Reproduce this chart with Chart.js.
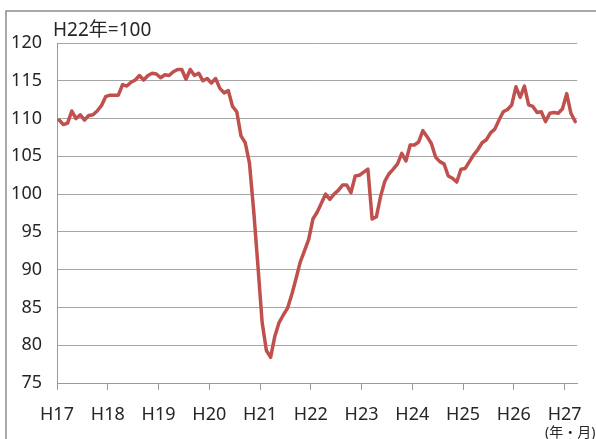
<!DOCTYPE html>
<html>
<head>
<meta charset="utf-8">
<script src="https://cdn.jsdelivr.net/npm/chart.js@4/dist/chart.umd.min.js"></script>
<style>
  html, body { margin: 0; padding: 0; background: #fff; }
  #wrap { position: relative; width: 596px; height: 439px; }
</style>
</head>
<body>
<div id="wrap"><canvas id="c" width="596" height="439"></canvas></div>
<script>
// Tick labels (fiscal years, Heisei)
const tickLabels = ['H17','H18','H19','H20','H21','H22','H23','H24','H25','H26','H27'];

// Monthly index values (H22 = 100), H17.1 .. H27.3
const values2005 = [109.8,109.2,109.4,111.0,110.0,110.5,109.8,110.4,110.5,111.0,111.7,112.9];
const values2006 = [113.1,113.1,113.1,114.5,114.3,114.8,115.1,115.7,115.1,115.7,116.0,115.9];
const values2007 = [115.4,115.8,115.7,116.2,116.5,116.5,115.2,116.5,115.7,116.0,115.0,115.3];
const values2008 = [114.7,115.3,114.0,113.4,113.7,111.6,110.9,107.7,106.8,104.1,97.8,90.5];
const values2009 = [83.0,79.3,78.4,81.2,83.0,84.0,84.9,86.7,88.8,91.0,92.5,94.0];
const values2010 = [96.7,97.6,98.8,100.0,99.3,100.0,100.5,101.2,101.2,100.2,102.4,102.5];
const values2011 = [102.9,103.3,96.7,97.0,99.7,101.7,102.7,103.3,104.0,105.4,104.4,106.5];
const values2012 = [106.5,106.9,108.4,107.6,106.7,104.9,104.3,104.0,102.4,102.1,101.6,103.3];
const values2013 = [103.4,104.3,105.2,105.9,106.8,107.2,108.1,108.6,109.8,110.9,111.2,111.8];
const values2014 = [114.2,112.8,114.3,111.8,111.6,110.8,110.9,109.6,110.7,110.8,110.7,111.3];
const values2015 = [113.3,110.7,109.6];

const values = [].concat(values2005, values2006, values2007, values2008, values2009,
  values2010, values2011, values2012, values2013, values2014, values2015);

const categories = [];
tickLabels.forEach(function (y) {
  for (let m = 1; m <= 12; m++) categories.push(y + '.' + m);
});
categories.length = values.length;

const yTitle = 'H22年=100';
const xUnit = '(年・月)';

const FONT = '"Noto Sans", "Noto Sans CJK JP", sans-serif';
const TEXT = '#262626';

const framePlugin = {
  id: 'frame',
  beforeDraw(chart) {
    const ctx = chart.ctx;
    ctx.save();
    ctx.fillStyle = '#fff';
    ctx.fillRect(0, 0, chart.width, chart.height);
    ctx.strokeStyle = '#8c8c8c';
    ctx.lineWidth = 1.5;
    ctx.beginPath();
    ctx.moveTo(6, chart.height + 2);
    ctx.lineTo(6, 11);
    ctx.lineTo(chart.width + 2, 11);
    ctx.stroke();
    ctx.restore();
  },
  afterDraw(chart) {
    const ctx = chart.ctx;
    ctx.save();
    ctx.fillStyle = TEXT;
    ctx.textBaseline = 'alphabetic';
    ctx.textAlign = 'left';
    ctx.font = '19px ' + FONT;
    ctx.fillText(yTitle, 53, 36);
    ctx.font = '14px ' + FONT;
    ctx.fillText(xUnit, 545, 437);
    ctx.restore();
  }
};

new Chart(document.getElementById('c'), {
  type: 'line',
  data: {
    labels: categories,
    datasets: [{
      data: values.map(function (v, i) { return { x: i, y: v }; }),
      borderColor: '#C0504D',
      borderWidth: 3.5,
      pointRadius: 0,
      tension: 0,
      fill: false,
      borderJoinStyle: 'round',
      borderCapStyle: 'round'
    }]
  },
  options: {
    responsive: false,
    animation: false,
    events: [],
    layout: { padding: { top: 43, right: 18, bottom: 0, left: 0 } },
    plugins: { legend: { display: false }, tooltip: { enabled: false }, title: { display: false } },
    scales: {
      x: {
        type: 'linear',
        min: -0.5,
        max: values.length - 0.5,
        afterBuildTicks(scale) {
          scale.ticks = tickLabels.map(function (_, k) { return { value: k * 12 - 0.5 }; });
        },
        afterFit(scale) { scale.height = 56; },
        ticks: {
          autoSkip: false,
          maxRotation: 0,
          minRotation: 0,
          padding: 14,
          color: TEXT,
          font: { family: FONT, size: 18 },
          callback: function (v, idx) { return tickLabels[idx]; }
        },
        grid: { drawOnChartArea: false, drawTicks: true, tickLength: 7, color: '#999', lineWidth: 1 },
        border: { display: true, color: '#999', width: 1 }
      },
      y: {
        min: 75,
        max: 120,
        afterFit(scale) { scale.width = 57; },
        ticks: {
          stepSize: 5,
          padding: 15,
          color: TEXT,
          font: { family: FONT, size: 18 }
        },
        grid: { drawTicks: false, color: '#a6a6a6', lineWidth: 1 },
        border: { display: true, color: '#999', width: 1 }
      }
    }
  },
  plugins: [framePlugin]
});
</script>
</body>
</html>
